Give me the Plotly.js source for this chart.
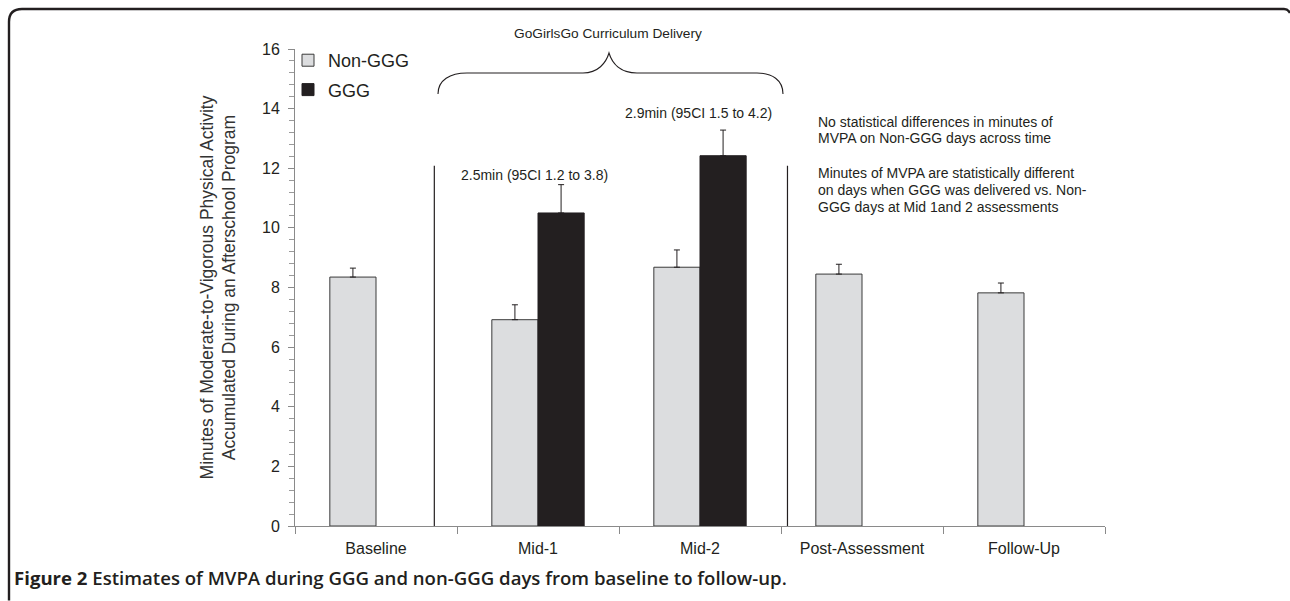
<!DOCTYPE html>
<html>
<head>
<meta charset="utf-8">
<script src="https://cdn.plot.ly/plotly-3.0.1.min.js"></script>
<style>
html,body{margin:0;padding:0;background:#fff;}
#chart{width:1290px;height:601px;}
</style>
</head>
<body>
<div id="chart"></div>
<script>
// ---- data ----
var categories = ['Baseline', 'Mid-1', 'Mid-2', 'Post-Assessment', 'Follow-Up'];
var nonGGG = [8.35, 6.92, 8.68, 8.45, 7.82];
var nonGGGErr = [0.30, 0.50, 0.58, 0.33, 0.33];
var ggg = [null, 10.50, 12.42, null, null];
var gggErr = [null, 0.95, 0.86, null, null];
var yTickVals = [0, 2, 4, 6, 8, 10, 12, 14, 16];

// ---- layout geometry (pixels) ----
var W = 1290, H = 601;
var L = 295, R = 1105, T = 49, B = 526.5;
function px(x) { return (x - L) / (R - L); }
function py(y) { return (B - y) / (B - T); }

var ink = '#231f20';
var font = 'Liberation Sans, Arial, sans-serif';

var traces = [
  {
    type: 'bar', name: 'Non-GGG', x: categories, y: nonGGG,
    legendgroup: 'a',
    marker: { color: '#dcdddf', line: { color: '#3a3a3a', width: 1 } },
    error_y: { type: 'data', symmetric: false, array: nonGGGErr,
               arrayminus: nonGGGErr.map(function () { return 0; }),
               color: ink, thickness: 1, width: 3 },
    hoverinfo: 'x+y'
  },
  {
    type: 'bar', name: 'GGG', x: categories, y: ggg,
    legendgroup: 'b',
    marker: { color: ink, line: { color: ink, width: 1 } },
    error_y: { type: 'data', symmetric: false, array: gggErr,
               arrayminus: gggErr.map(function (v) { return v === null ? null : 0; }),
               color: ink, thickness: 1, width: 3 },
    hoverinfo: 'x+y'
  }
];

function P(x, y) { return px(x).toFixed(5) + ',' + py(y).toFixed(5); }

var bracePath = 'M' + P(438, 94) +
  ' C' + P(438, 80) + ' ' + P(450, 73) + ' ' + P(467, 73) +
  ' L' + P(583, 73) +
  ' C' + P(598, 73) + ' ' + P(606, 63) + ' ' + P(609, 53) +
  ' C' + P(612, 63) + ' ' + P(620, 73) + ' ' + P(637, 73) +
  ' L' + P(757, 73) +
  ' C' + P(772, 73) + ' ' + P(783, 80) + ' ' + P(783, 94);

var framePath = 'M' + P(9, 601) + ' L' + P(9, 22) +
  ' Q' + P(9, 9) + ' ' + P(22, 9) + ' L' + P(1284, 9) +
  ' Q' + P(1288, 9) + ' ' + P(1290, 13);

function note(x, y, text, size, anchor) {
  return { xref: 'paper', yref: 'paper', x: px(x), y: py(y), text: text,
           showarrow: false, xanchor: anchor || 'center', yanchor: 'middle',
           font: { family: font, size: size || 14, color: ink } };
}

var annotations = [
  note(608, 33, 'GoGirlsGo Curriculum Delivery', 13.7),
  note(534, 175, '2.5min (95CI 1.2 to 3.8)', 14),
  note(698, 113, '2.9min (95CI 1.5 to 4.2)', 14),
  note(816, 122, 'No statistical differences in minutes of', 14, 'left'),
  note(816, 138, 'MVPA on Non-GGG days across time', 14, 'left'),
  note(816, 173, 'Minutes of MVPA are statistically different', 14, 'left'),
  note(816, 190, 'on days when GGG was delivered vs. Non-', 14, 'left'),
  note(816, 207, 'GGG days at Mid 1and 2 assessments', 14, 'left'),
  { xref: 'paper', yref: 'paper', x: px(12), y: py(578), xanchor: 'left', yanchor: 'middle',
    showarrow: false,
    text: '<b>Figure 2</b> Estimates of MVPA during GGG and non-GGG days from baseline to follow-up.',
    font: { family: 'Open Sans, sans-serif', size: 18.6, color: ink, weight: 600 } }
];

var shapes = [
  { type: 'line', xref: 'x', yref: 'y', x0: 0.36, x1: 0.36, y0: 0, y1: 12.08,
    line: { color: ink, width: 1.2 } },
  { type: 'line', xref: 'x', yref: 'y', x0: 2.54, x1: 2.54, y0: 0, y1: 12.08,
    line: { color: ink, width: 1.2 } },
  { type: 'path', xref: 'paper', yref: 'paper', path: bracePath,
    line: { color: ink, width: 1.1 } },
  { type: 'path', xref: 'paper', yref: 'paper', path: framePath,
    line: { color: ink, width: 2.4 } }
];

var layout = {
  width: W, height: H,
  margin: { l: L, r: W - R, t: T, b: H - B, pad: 0 },
  paper_bgcolor: '#fff', plot_bgcolor: '#fff',
  barmode: 'group', bargap: 0.43, bargroupgap: 0,
  showlegend: true,
  legend: { x: px(288), y: py(42), xanchor: 'left', yanchor: 'top',
            traceorder: 'grouped', tracegroupgap: 3,
            font: { family: font, size: 18, color: ink },
            bgcolor: 'rgba(0,0,0,0)' },
  xaxis: {
    type: 'category', range: [-0.5, 4.5], fixedrange: true,
    showline: true, linecolor: '#8a8a8a', linewidth: 1,
    ticks: 'outside', tickson: 'boundaries', ticklen: 7, tickcolor: '#8a8a8a',
    ticklabelstandoff: 8,
    showgrid: false, zeroline: false,
    tickfont: { family: font, size: 16, color: ink }
  },
  yaxis: {
    range: [0, 16], fixedrange: true, tickvals: yTickVals,
    showline: true, linecolor: '#8a8a8a', linewidth: 1,
    ticks: 'outside', ticklen: 6, tickcolor: '#8a8a8a',
    ticklabelstandoff: 5,
    minor: { dtick: 0.4, ticks: 'outside', ticklen: 5, tickcolor: '#9a9a9a', showgrid: false },
    showgrid: false, zeroline: false,
    tickfont: { family: font, size: 16, color: ink },
    title: { text: 'Minutes of Moderate-to-Vigorous Physical Activity<br>Accumulated During an Afterschool Program',
             font: { family: font, size: 17.5, color: '#333' }, standoff: 21 }
  },
  annotations: annotations,
  shapes: shapes
};

Plotly.newPlot('chart', traces, layout, { displayModeBar: false, staticPlot: true });
</script>
</body>
</html>
